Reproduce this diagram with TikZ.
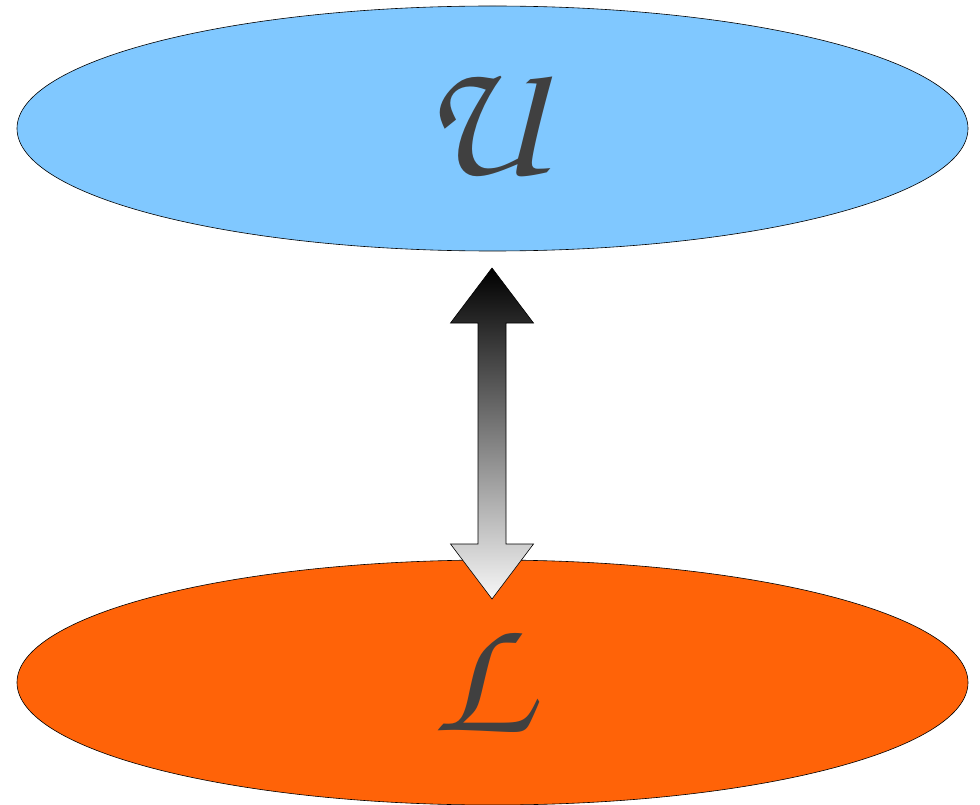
\documentclass[tikz,border=0pt]{standalone}
\usetikzlibrary{shapes.geometric}
\DeclareMathAlphabet{\mathpzc}{OT1}{pzc}{m}{it}
\definecolor{skyb}{RGB}{128,200,255}
\definecolor{orng}{RGB}{255,99,8}
\definecolor{ink}{RGB}{64,64,64}
\tikzset{
  blob/.style={ellipse,draw=black,line width=0.6pt,minimum width=951pt,minimum height=245pt,inner sep=0pt},
  letter/.style={text=ink,font=\fontsize{170}{170}\selectfont},
  blockarrow/.style={draw=black,line width=0.6pt,top color=black,bottom color=gray!6}
}
\begin{document}
\begin{tikzpicture}[x=1pt,y=-1pt]
\useasboundingbox (0,0) rectangle (980,805);
\node[blob,fill=skyb] (top) at (492.5,128.5) {};
\node[blob,fill=orng] (bot) at (492.5,682.5) {};
\node[letter] (U) at (488,123) {$\mathpzc{U}$};
\node[letter] (L) at (488,680) {$\mathpzc{L}$};
\coordinate (tipT) at (492,268);
\coordinate (tipB) at (492,599);
\shade[blockarrow] (tipT) -- ++(41.5,55) -- ++(-27.5,0) -- ++(0,221) -- ++(27.5,0) -- (tipB) -- ++(-41.5,-55) -- ++(27.5,0) -- ++(0,-221) -- ++(-27.5,0) -- cycle;
\end{tikzpicture}
\end{document}
